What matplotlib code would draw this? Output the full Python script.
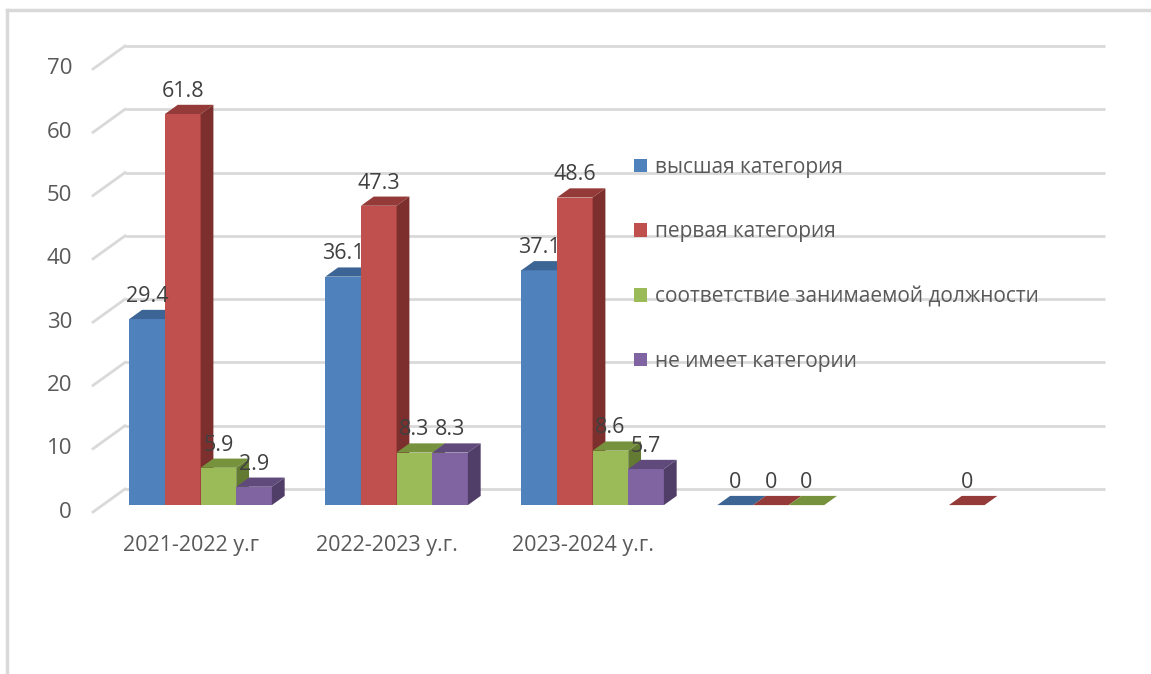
import numpy as np
import matplotlib
matplotlib.use('Agg')
import matplotlib.pyplot as plt
from matplotlib.patches import Polygon, Patch

plt.rcParams['font.family'] = ['Open Sans', 'DejaVu Sans']

categories = ['2021-2022 у.г', '2022-2023 у.г.', '2023-2024 у.г.', '', '']
series_names = ['высшая категория', 'первая категория',
                'соответствие занимаемой должности', 'не имеет категории']
vysshaya = [29.4, 36.1, 37.1, 0, np.nan]
pervaya = [61.8, 47.3, 48.6, 0, 0]
sootvetstvie = [5.9, 8.3, 8.6, 0, np.nan]
net_kategorii = [2.9, 8.3, 5.7, np.nan, np.nan]
yticks = [0, 10, 20, 30, 40, 50, 60, 70]

front_colors = ['#4f81bd', '#c0504d', '#9bbb59', '#8064a2']
top_colors = ['#3c6494', '#943a38', '#76923c', '#604a7b']
side_colors = ['#355985', '#7d2f2d', '#627a31', '#503e68']
text_color = '#595959'
grid_color = '#d9d9d9'
fs = 15.5

W, H = 1151, 674
fig = plt.figure(figsize=(W / 100, H / 100), dpi=100)

# front plane of the floor: x from 93px to 1073px, y=0 at 512px, y=70 at 69px
ax = fig.add_axes([93 / W, (H - 512) / H, 980 / W, (512 - 69) / H])
ax.set_xlim(-0.5, 4.5)
ax.set_ylim(0, 70)
ax.axis('off')

# depth of the floor (front -> back) in data units
DX = 32 / 196
DY = 23 * 70 / (512 - 69)
d_front, d_back = 0.3, 0.7
bw = 1 / 5.5

# walls: gridlines on back wall and side wall
for v in yticks:
    ax.plot([-0.5 + DX, 4.5 + DX], [v + DY, v + DY], color=grid_color, lw=2,
            clip_on=False, zorder=1, solid_capstyle='butt')
    ax.plot([-0.5, -0.5 + DX], [v, v + DY], color=grid_color, lw=2,
            clip_on=False, zorder=1)
    ax.annotate(str(v), (-0.5, v), xytext=(-21, 0), textcoords='offset pixels',
                ha='right', va='center', fontsize=16, color=text_color,
                annotation_clip=False)

for i, c in enumerate(categories):
    if c:
        ax.annotate(c, (i, 0), xytext=(0, -33), textcoords='offset pixels',
                    ha='center', va='center', fontsize=fs, color=text_color,
                    annotation_clip=False)

all_series = [vysshaya, pervaya, sootvetstvie, net_kategorii]
fx, fy = d_front * DX, d_front * DY
tx, ty = (d_back - d_front) * DX, (d_back - d_front) * DY
z = 3
for i in range(len(categories)):
    for j, vals in enumerate(all_series):
        v = vals[i]
        if np.isnan(v):
            continue
        x0 = i + (j - 2) * bw + fx
        x1 = x0 + bw
        y0 = fy
        y1 = fy + v
        ax.bar(x0, v, width=bw, bottom=y0, align='edge', color=front_colors[j],
               linewidth=0, zorder=z, clip_on=False)
        ax.add_patch(Polygon([(x0, y1), (x1, y1), (x1 + tx, y1 + ty), (x0 + tx, y1 + ty)],
                             closed=True, facecolor=top_colors[j], linewidth=0,
                             zorder=z, clip_on=False))
        if v > 0:
            ax.add_patch(Polygon([(x1, y0), (x1, y1), (x1 + tx, y1 + ty), (x1 + tx, y0 + ty)],
                                 closed=True, facecolor=side_colors[j], linewidth=0,
                                 zorder=z, clip_on=False))
        z += 1
        ax.annotate('{:g}'.format(v), ((x0 + x1) / 2, y1 + ty), xytext=(0, 8),
                    textcoords='offset pixels', ha='center', va='baseline',
                    fontsize=fs, color='#404040', zorder=100, annotation_clip=False)

handles = [Patch(facecolor=c, edgecolor='none') for c in front_colors]
fig.legend(handles, series_names, loc='upper left', bbox_to_anchor=(615 / W, 1 - 138 / H),
           frameon=False, fontsize=15, labelcolor=text_color, handlelength=0.62,
           handleheight=0.62, handletextpad=0.42, labelspacing=2.1)

# chart border
fig.add_artist(plt.Line2D([7 / W, 7 / W], [0, 1 - 10 / H], color=grid_color, lw=2.5))
fig.add_artist(plt.Line2D([7 / W, 1], [1 - 10 / H, 1 - 10 / H], color=grid_color, lw=2.5))

fig.savefig('out.png', dpi=100)
